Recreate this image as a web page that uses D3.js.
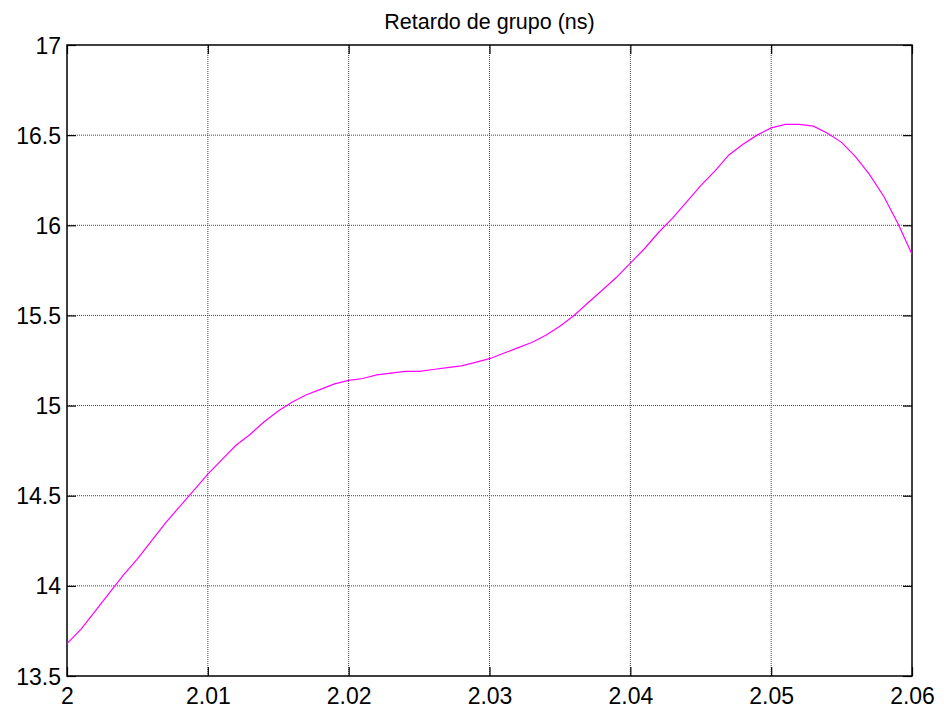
<!DOCTYPE html>
<html>
<head>
<meta charset="utf-8">
<script src="https://cdn.jsdelivr.net/npm/d3@7"></script>
<style>
  body { margin: 0; background: #fff; }
  text { font-family: "Liberation Sans", Arial, sans-serif; }
</style>
</head>
<body>
<script>
// frequency (GHz) and group delay (ns)
var freq = [];
for (var i = 0; i <= 60; i++) freq.push(+(2 + i * 0.001).toFixed(3));

var delay = [
  13.68, 13.76, 13.86, 13.96, 14.06, 14.15, 14.25, 14.35, 14.44, 14.53,
  14.62, 14.70, 14.78, 14.84, 14.91, 14.97, 15.02, 15.06, 15.09, 15.12,
  15.14, 15.15, 15.17, 15.18, 15.19, 15.19, 15.20, 15.21, 15.22, 15.24,
  15.26, 15.29, 15.32, 15.35, 15.39, 15.44, 15.50, 15.57, 15.64, 15.71,
  15.79, 15.87, 15.96, 16.04, 16.13, 16.22, 16.30, 16.39, 16.45, 16.50,
  16.54, 16.56, 16.56, 16.55, 16.51, 16.46, 16.38, 16.28, 16.16, 16.01,
  15.84
];

var xTicks = [2, 2.01, 2.02, 2.03, 2.04, 2.05, 2.06];
var yTicks = [13.5, 14, 14.5, 15, 15.5, 16, 16.5, 17];
var title = "Retardo de grupo (ns)";

var svg = d3.select("body")
            .append("svg")
            .attr("width", 944)
            .attr("height", 716);

var margin = {top: 45, right: 32, bottom: 40, left: 67};
var width = 944 - margin.left - margin.right;
var height = 716 - margin.top - margin.bottom;

var g = svg.append("g")
           .attr("transform", "translate(" + margin.left + "," + margin.top + ")");

var xScale = d3.scaleLinear().domain([2, 2.06]).range([0, width]);
var yScale = d3.scaleLinear().domain([13.5, 17]).range([height, 0]);

// grid
g.selectAll(".gx")
 .data(xTicks.slice(1, -1))
 .enter()
 .append("line")
 .attr("x1", function(d) { return xScale(d); })
 .attr("x2", function(d) { return xScale(d); })
 .attr("y1", 0)
 .attr("y2", height)
 .attr("stroke", "#444")
 .attr("stroke-dasharray", "1,1");

g.selectAll(".gy")
 .data(yTicks.slice(1, -1))
 .enter()
 .append("line")
 .attr("y1", function(d) { return yScale(d); })
 .attr("y2", function(d) { return yScale(d); })
 .attr("x1", 0)
 .attr("x2", width)
 .attr("stroke", "#444")
 .attr("stroke-dasharray", "1,1");

// axes with inward ticks, labels on bottom/left only
var fmt = function(d) { return d3.format("")(+d.toFixed(2)); };

var axBottom = g.append("g")
                .attr("transform", "translate(0," + height + ")")
                .call(d3.axisBottom(xScale).tickValues(xTicks).tickSizeInner(-9).tickSizeOuter(0).tickFormat(fmt));
var axLeft = g.append("g")
              .call(d3.axisLeft(yScale).tickValues(yTicks).tickSizeInner(-9).tickSizeOuter(0).tickFormat(fmt));
var axTop = g.append("g")
             .call(d3.axisTop(xScale).tickValues(xTicks).tickSizeInner(-9).tickSizeOuter(0).tickFormat(""));
var axRight = g.append("g")
               .attr("transform", "translate(" + width + ",0)")
               .call(d3.axisRight(yScale).tickValues(yTicks).tickSizeInner(-9).tickSizeOuter(0).tickFormat(""));

[axBottom, axLeft, axTop, axRight].forEach(function(a) {
  a.select(".domain").remove();
  a.selectAll("line").attr("stroke", "#000").attr("stroke-width", 1.2);
  a.selectAll("text")
   .attr("fill", "#000")
   .style("font-size", "23px")
   .style("font-family", "'Liberation Sans', Arial, sans-serif");
});
axBottom.selectAll("text").attr("y", 12).attr("dy", "0.71em");
axLeft.selectAll("text").attr("x", -6).attr("dy", "0.35em");

// box
g.append("rect")
 .attr("width", width)
 .attr("height", height)
 .attr("fill", "none")
 .attr("stroke", "#000")
 .attr("stroke-width", 1.5);

// curve
var line = d3.line()
             .x(function(d, i) { return xScale(freq[i]); })
             .y(function(d) { return yScale(d); });

g.append("path")
 .datum(delay)
 .attr("d", line)
 .attr("fill", "none")
 .attr("stroke", "#ff00ff")
 .attr("stroke-width", 1.2);

svg.append("text")
   .attr("x", margin.left + width / 2)
   .attr("y", 29)
   .attr("text-anchor", "middle")
   .style("font-size", "21.5px")
   .text(title);
</script>
</body>
</html>
